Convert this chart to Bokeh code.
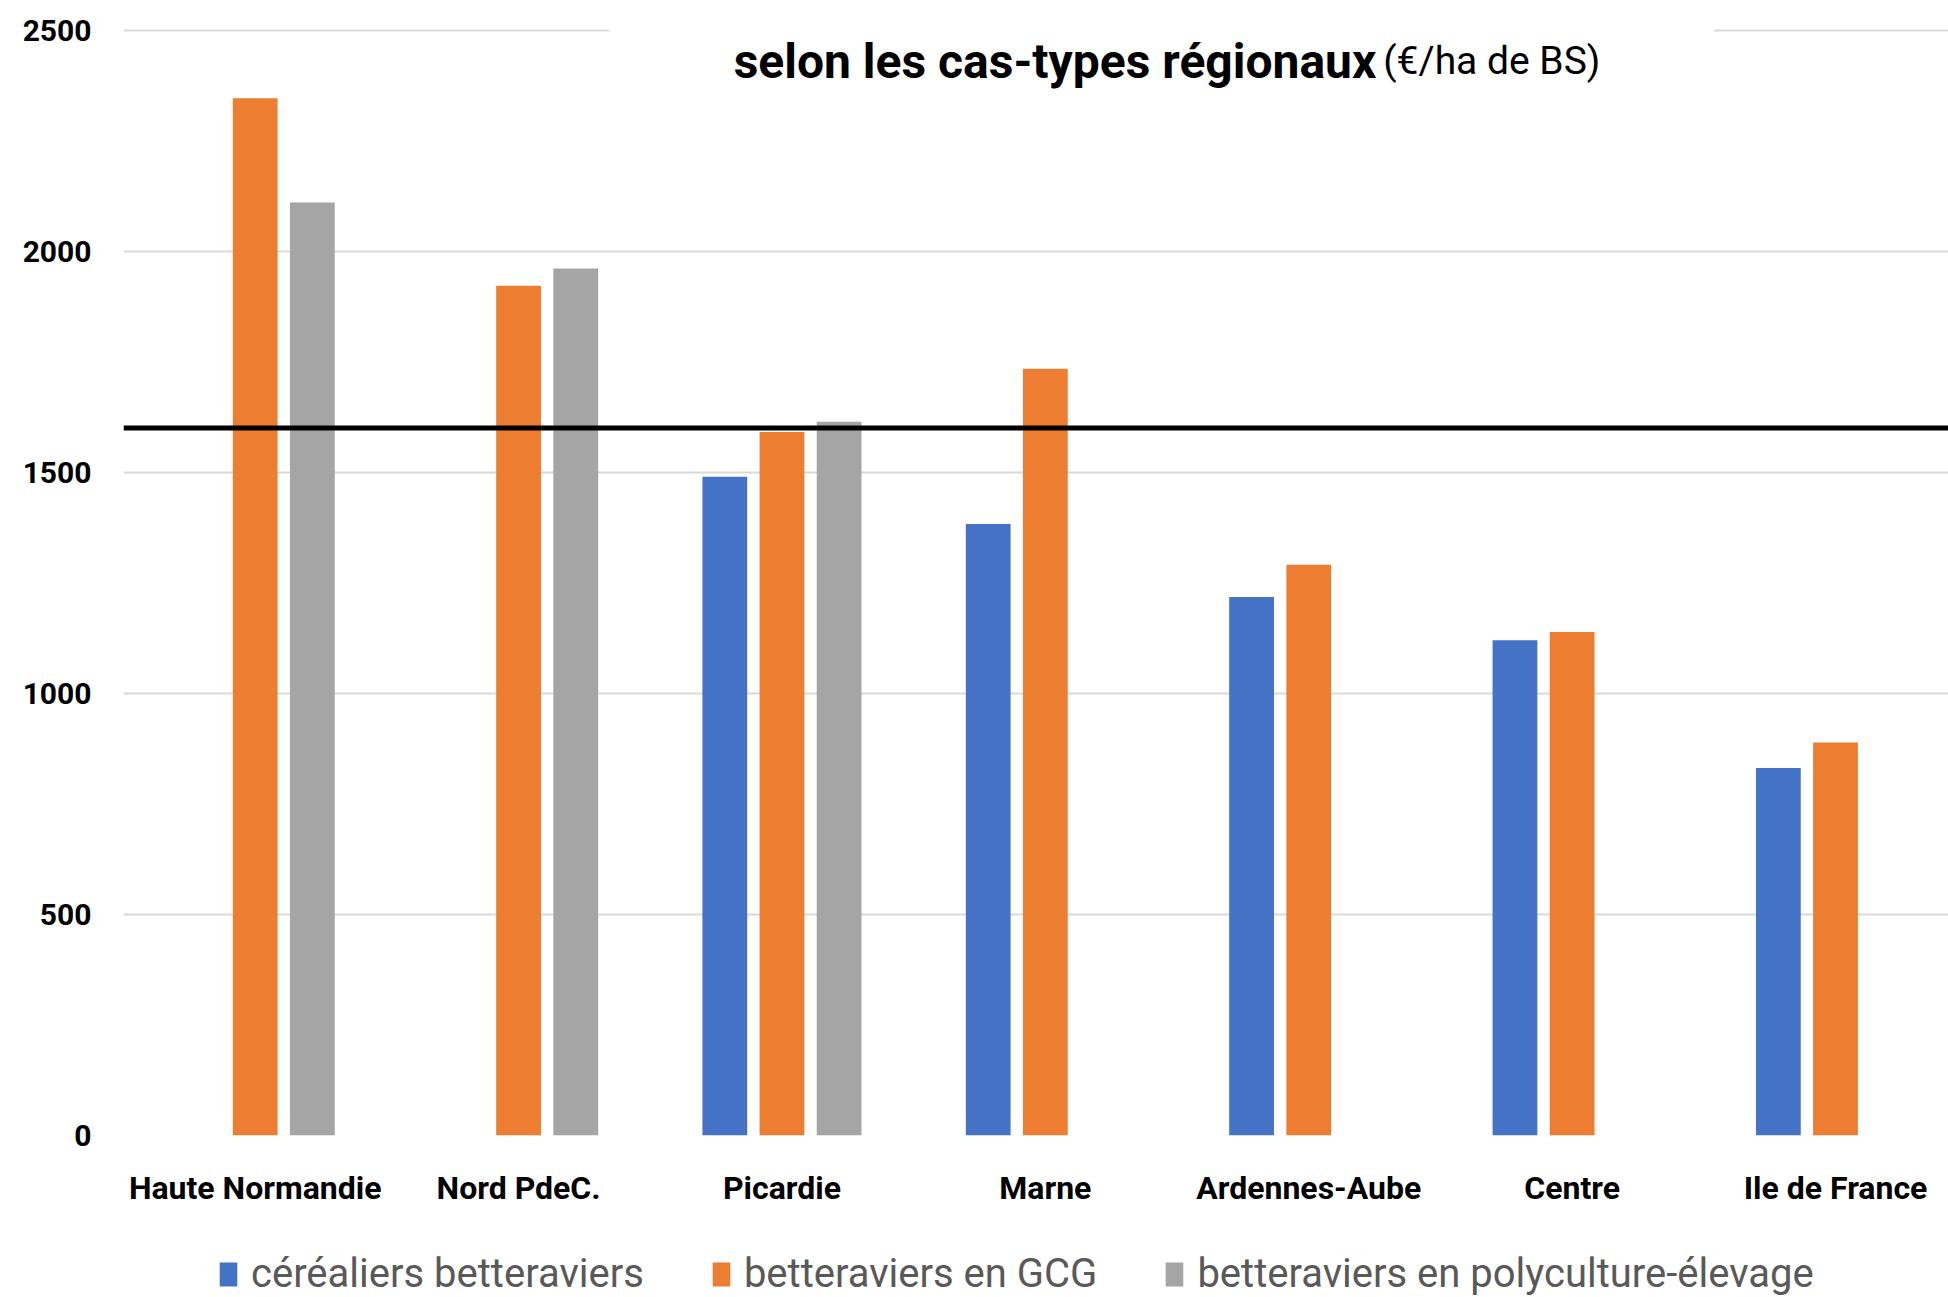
import numpy as np
from bokeh.plotting import figure
from bokeh.layouts import column
from bokeh.models import (Range1d, FixedTicker, Span, Legend, LegendItem, Label,
                          BoxAnnotation, ColumnDataSource)
from bokeh.transform import dodge
from bokeh.embed import file_html
from bokeh.resources import INLINE

# ---- data ----
categories = ["Haute Normandie", "Nord PdeC.", "Picardie", "Marne",
              "Ardennes-Aube", "Centre", "Ile de France"]
cerealiers = [np.nan, np.nan, 1490, 1383, 1218, 1120, 831]
gcg = [2346, 1922, 1591, 1734, 1291, 1139, 889]
polyculture = [2110, 1961, 1614, np.nan, np.nan, np.nan, np.nan]
series_names = ["céréaliers betteraviers", "betteraviers en GCG",
                "betteraviers en polyculture-élevage"]
seuil = 1600
y_ticks = [0, 500, 1000, 1500, 2000, 2500]
title_bold = "selon les cas-types régionaux"
title_unit = "(€/ha de BS)"

COLORS = ["#4472C4", "#ED7D31", "#A5A5A5"]
FONT = "Roboto"

src = ColumnDataSource(dict(x=list(range(len(categories))),
                            c=cerealiers, g=gcg, p=polyculture))

W = 1948
H_MAIN = 1209
H_LEG = 88
p = figure(width=W, height=H_MAIN, output_backend="svg", toolbar_location=None,
           x_range=Range1d(-0.5, 6.429), y_range=Range1d(0, 2567),
           min_border_left=123, min_border_right=0, min_border_top=0,
           min_border_bottom=H_MAIN - 1137)
p.outline_line_color = None
p.background_fill_color = "white"
p.border_fill_color = "white"

bw = 0.17
off = 0.217
r1 = p.vbar(x=dodge("x", -off, range=p.x_range), top="c", width=bw, source=src,
            fill_color=COLORS[0], line_color=None)
r2 = p.vbar(x=dodge("x", 0.0, range=p.x_range), top="g", width=bw, source=src,
            fill_color=COLORS[1], line_color=None)
r3 = p.vbar(x=dodge("x", off, range=p.x_range), top="p", width=bw, source=src,
            fill_color=COLORS[2], line_color=None)

# threshold line
p.add_layout(Span(location=seuil, dimension="width", line_color="black",
                  line_width=5))

# grid
p.xgrid.grid_line_color = None
p.ygrid.grid_line_color = "#d9d9d9"
p.ygrid.grid_line_width = 2
p.yaxis.ticker = FixedTicker(ticks=y_ticks)
p.xaxis.ticker = FixedTicker(ticks=list(range(len(categories))))
p.xaxis.major_label_overrides = {i: c for i, c in enumerate(categories)}

for ax in (p.xaxis, p.yaxis):
    ax.axis_line_color = None
    ax.major_tick_line_color = None
    ax.minor_tick_line_color = None
    ax.major_label_text_font = FONT
    ax.major_label_text_font_style = "bold"
    ax.major_label_text_color = "black"
p.xaxis.major_label_text_font_size = "32px"
p.yaxis.major_label_text_font_size = "30px"
p.xaxis.major_label_standoff = 27
p.yaxis.major_label_standoff = 26

# title box + title
p.add_layout(BoxAnnotation(left=1.345, right=5.54, bottom=2380,
                           fill_color="white", fill_alpha=1.0, line_alpha=0))
p.add_layout(Label(x=4.257, y=2430, text=title_bold, text_font=FONT,
                   text_font_style="bold", text_font_size="48px",
                   text_align="right", text_baseline="alphabetic",
                   text_color="black"))
p.add_layout(Label(x=4.283, y=2430, text=title_unit, text_font=FONT,
                   text_font_size="39px", text_align="left",
                   text_baseline="alphabetic", text_color="black"))

# legend in its own strip under the chart
lf = figure(width=W, height=H_LEG, output_backend="svg", toolbar_location=None,
            x_range=Range1d(0, 1), y_range=Range1d(0, 1),
            x_axis_type=None, y_axis_type=None,
            min_border_left=0, min_border_right=0, min_border_top=0,
            min_border_bottom=0)
lf.outline_line_color = None
lf.grid.visible = False
lf.background_fill_color = "white"
lf.border_fill_color = "white"
hidden = ColumnDataSource(dict(x=[-10], top=[-10]))
lr = [lf.vbar(x="x", top="top", width=0.1, source=hidden,
              fill_color=c, line_color=None) for c in COLORS]

legend = Legend(items=[LegendItem(label=n, renderers=[r])
                       for n, r in zip(series_names, lr)],
                orientation="horizontal", location=(94, 0),
                border_line_color=None, background_fill_alpha=0,
                label_text_font=FONT, label_text_font_size="40px",
                label_text_color="#595959", glyph_width=22, glyph_height=30,
                label_standoff=12, spacing=66, padding=0, margin=0)
lf.add_layout(legend)

layout = column(p, lf, spacing=0)
open("out.html", "w").write(file_html(layout, INLINE))
